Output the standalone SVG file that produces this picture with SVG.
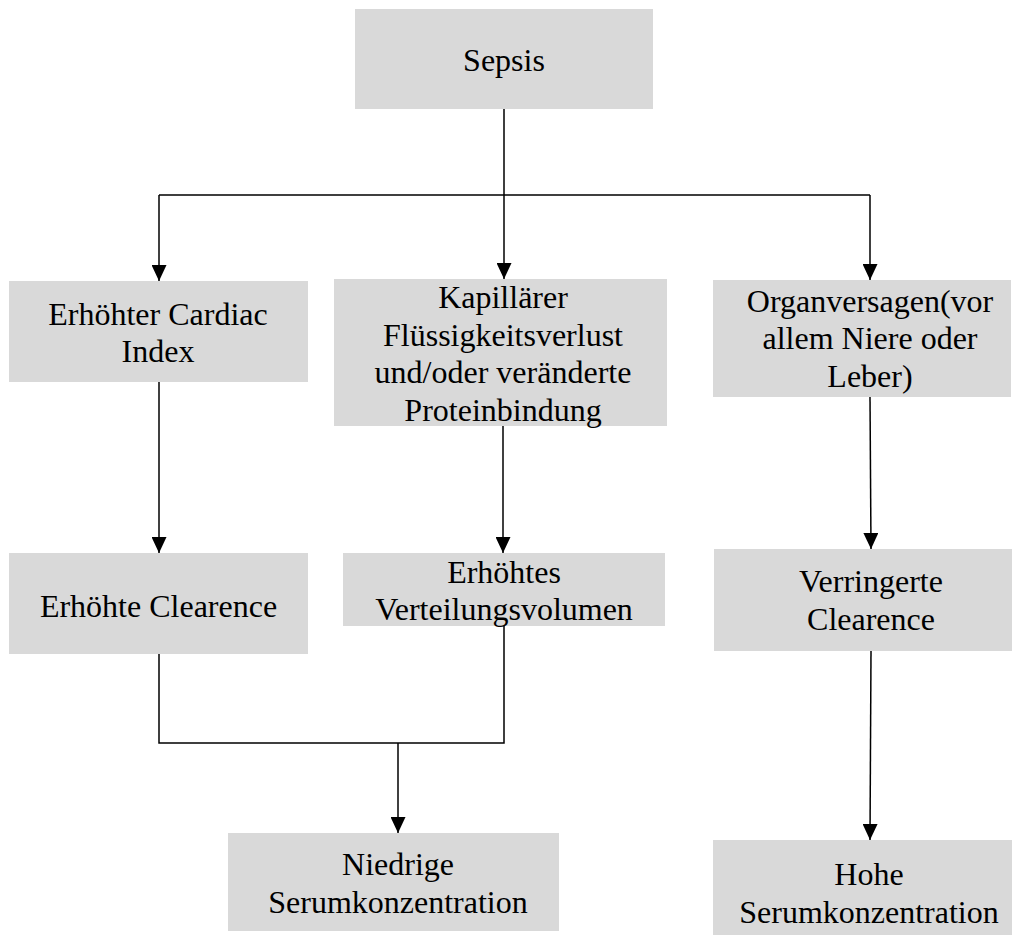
<svg xmlns="http://www.w3.org/2000/svg" width="1012" height="935" viewBox="0 0 1012 935">
  <style>
    .box { fill: #d9d9d9; }
    .t { font-size: 32px; fill: #000; text-anchor: middle; }
    .c { fill: none; stroke: #000; stroke-width: 1.5; }
    .a { marker-end: url(#arr); }
  </style>
  <defs>
    <marker id="arr" viewBox="0 0 16 15" refX="16" refY="7.5" markerWidth="16" markerHeight="15" markerUnits="userSpaceOnUse" orient="auto">
      <path d="M0,0 L16,7.5 L0,15 z" fill="#000"/>
    </marker>
  </defs>
  <rect width="1012" height="935" fill="#fff"/>

  <g id="connectors">
    <path class="c" d="M504,109 V195 M159,195 H870"/>
    <path class="c a" d="M159,195 V281"/>
    <path class="c a" d="M504,195 V279"/>
    <path class="c a" d="M870,195 V280"/>
    <path class="c a" d="M159,382 V553"/>
    <path class="c a" d="M503,426 V553"/>
    <path class="c a" d="M870,397 L871,549"/>
    <path class="c a" d="M871,651 L870,840"/>
    <path class="c" d="M159,654 V743 H504 V626"/>
    <path class="c a" d="M398,743 V833"/>
  </g>

  <g font-family="Times New Roman, Liberation Serif, serif">
  <g id="sepsis">
    <rect class="box" x="355" y="9" width="298" height="100"/>
    <text class="t" x="504" y="71">Sepsis</text>
  </g>

  <g id="cardiac">
    <rect class="box" x="9" y="281" width="299" height="101"/>
    <text class="t" x="158" y="325">Erhöhter Cardiac</text>
    <text class="t" x="158" y="362">Index</text>
  </g>

  <g id="kapillaer">
    <rect class="box" x="334" y="279" width="333" height="147"/>
    <text class="t" x="503" y="308">Kapillärer</text>
    <text class="t" x="503" y="345.5">Flüssigkeitsverlust</text>
    <text class="t" x="503" y="383">und/oder veränderte</text>
    <text class="t" x="503" y="420.5">Proteinbindung</text>
  </g>

  <g id="organ">
    <rect class="box" x="713" y="280" width="298" height="117"/>
    <text class="t" x="870" y="312">Organversagen(vor</text>
    <text class="t" x="870" y="349">allem Niere oder</text>
    <text class="t" x="870" y="387">Leber)</text>
  </g>

  <g id="erhoehte-clearence">
    <rect class="box" x="9" y="553" width="299" height="101"/>
    <text class="t" x="158.5" y="617">Erhöhte Clearence</text>
  </g>

  <g id="verteilungsvolumen">
    <rect class="box" x="343" y="553" width="322" height="73"/>
    <text class="t" x="504" y="583">Erhöhtes</text>
    <text class="t" x="504" y="620">Verteilungsvolumen</text>
  </g>

  <g id="verringerte-clearence">
    <rect class="box" x="714" y="549" width="298" height="102"/>
    <text class="t" x="871" y="592">Verringerte</text>
    <text class="t" x="871" y="630">Clearence</text>
  </g>

  <g id="niedrige">
    <rect class="box" x="228" y="833" width="331" height="98"/>
    <text class="t" x="398" y="875">Niedrige</text>
    <text class="t" x="398" y="913">Serumkonzentration</text>
  </g>

  <g id="hohe">
    <rect class="box" x="713" y="840" width="299" height="95"/>
    <text class="t" x="869" y="885">Hohe</text>
    <text class="t" x="869" y="923">Serumkonzentration</text>
  </g>
  </g>
</svg>
